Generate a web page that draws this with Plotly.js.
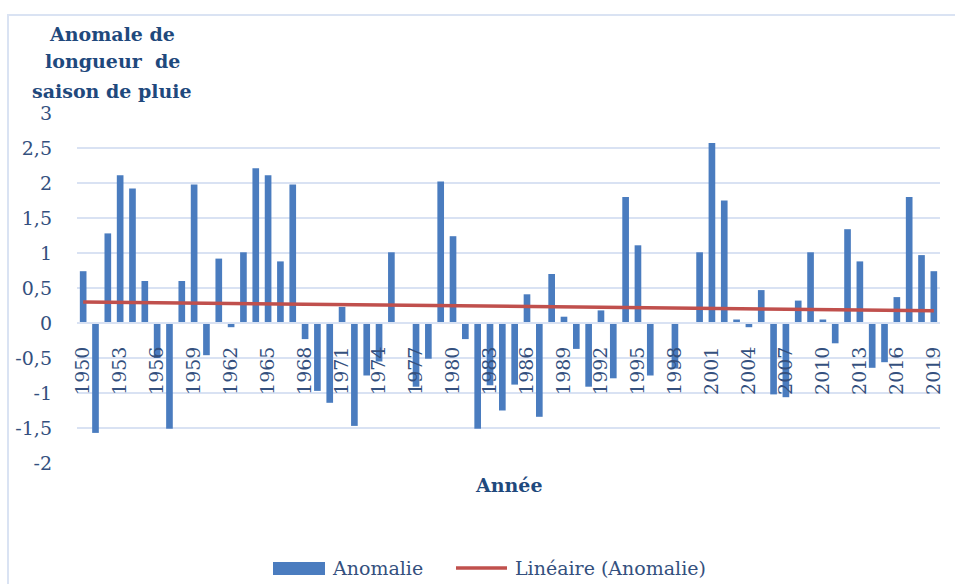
<!DOCTYPE html>
<html>
<head>
<meta charset="utf-8">
<script src="https://cdn.plot.ly/plotly-3.0.1.min.js"></script>
<style>
  html, body { margin: 0; padding: 0; background: #ffffff; }
  #wrap { position: relative; width: 955px; height: 584px; overflow: hidden; }
  #frame { position: absolute; left: 7px; top: 14px; width: 1000px; height: 600px;
           border-left: 2px solid #DAE3F3; border-top: 2px solid #DAE3F3; pointer-events: none; }
  #chart { position: absolute; left: 0; top: 0; width: 955px; height: 584px; }
</style>
</head>
<body>
<div id="wrap">
  <div id="chart"></div>
  <div id="frame"></div>
</div>
<script>
// ---- Data ----
const years = [
  1950,1951,1952,1953,1954,1955,1956,1957,1958,1959,
  1960,1961,1962,1963,1964,1965,1966,1967,1968,1969,
  1970,1971,1972,1973,1974,1975,1976,1977,1978,1979,
  1980,1981,1982,1983,1984,1985,1986,1987,1988,1989,
  1990,1991,1992,1993,1994,1995,1996,1997,1998,1999,
  2000,2001,2002,2003,2004,2005,2006,2007,2008,2009,
  2010,2011,2012,2013,2014,2015,2016,2017,2018,2019
];
const anomalie = [
  0.74,-1.57,1.28,2.11,1.92,0.60,-0.50,-1.51,0.60,1.98,
  -0.46,0.92,-0.06,1.01,2.21,2.11,0.88,1.98,-0.23,-0.97,
  -1.14,0.23,-1.47,-0.75,-0.55,1.01,0.01,-0.91,-0.51,2.02,
  1.24,-0.23,-1.51,-0.89,-1.25,-0.88,0.41,-1.34,0.70,0.09,
  -0.37,-0.91,0.18,-0.79,1.80,1.11,-0.75,0.01,-0.65,0.01,
  1.01,2.57,1.75,0.05,-0.06,0.47,-1.02,-1.06,0.32,1.01,
  0.05,-0.29,1.34,0.88,-0.64,-0.56,0.37,1.80,0.97,0.74
];
// Linear trend line (Linéaire (Anomalie)) end points
const trendYears = [1950, 2019];
const trendValues = [0.30, 0.176];

const xTickVals = [1950,1953,1956,1959,1962,1965,1968,1971,1974,1977,1980,1983,1986,1989,1992,1995,1998,2001,2004,2007,2010,2013,2016,2019];
const xTickText = ['1950','1953','1956','1959','1962','1965','1968','1971','1974','1977','1980','1983','1986','1989','1992','1995','1998','2001','2004','2007','2010','2013','2016','2019'];
const yTickVals = [-2,-1.5,-1,-0.5,0,0.5,1,1.5,2,2.5,3];
const yTickText = ['-2','-1,5','-1','-0,5','0','0,5','1','1,5','2','2,5','3'];

const seriesNames = ['Anomalie', 'Linéaire (Anomalie)'];
const titleLines = ['Anomale de', 'longueur  de', 'saison de pluie'];
const xTitleText = 'Année';

// ---- Styles ----
const gridColor = '#D9E2F3';
const tickColor = '#34507E';
const titleColor = '#1F497D';
const barColor = '#4A7CBF';
const trendColor = '#C0504D';
const serif = '"DejaVu Serif", "Liberation Serif", serif';

const yMin = -2, yMax = 3;
// plot area in pixels
const L = 77, R = 940, T = 113, B = 463;
const W = R - L, H = B - T;
const px = (x) => (x - L) / W;
const py = (y) => (B - y) / H;

const traces = [
  {
    type: 'bar',
    x: years,
    y: anomalie,
    name: seriesNames[0],
    marker: { color: barColor, line: { width: 0 } },
    showlegend: false,
    hoverinfo: 'skip'
  },
  {
    type: 'scatter',
    mode: 'lines',
    x: trendYears,
    y: trendValues,
    name: seriesNames[1],
    line: { color: trendColor, width: 3.5 },
    showlegend: false,
    hoverinfo: 'skip'
  }
];

const titleY = [33.5, 61.5, 90.5];
const titleAnnotations = titleLines.map((t, i) => ({
  text: t,
  xref: 'paper', yref: 'paper',
  x: px(112), y: py(titleY[i]),
  xanchor: 'center', yanchor: 'middle', align: 'center',
  showarrow: false,
  font: { family: serif, size: 19, color: titleColor, weight: 'bold' }
}));

const layout = {
  width: 955,
  height: 584,
  margin: { l: L, r: 955 - R, t: T, b: 584 - B, autoexpand: false },
  paper_bgcolor: 'rgba(0,0,0,0)',
  plot_bgcolor: 'rgba(0,0,0,0)',
  font: { family: serif, size: 19, color: tickColor },
  bargap: 0.46,
  showlegend: false,
  xaxis: {
    type: 'linear',
    range: [1949.5, 2019.5],
    anchor: 'free',
    position: (0 - yMin) / (yMax - yMin),
    tickmode: 'array',
    tickvals: xTickVals,
    ticktext: xTickText,
    tickangle: -90,
    ticks: '',
    ticklabelstandoff: 15,
    showgrid: false,
    zeroline: false,
    showline: true,
    linecolor: gridColor,
    linewidth: 2,
    automargin: false,
    tickfont: { family: serif, size: 19, color: tickColor },
    fixedrange: true
  },
  yaxis: {
    range: [yMin, yMax],
    tickmode: 'array',
    tickvals: yTickVals,
    ticktext: yTickText,
    ticks: '',
    ticklabelstandoff: 24,
    showgrid: true,
    gridcolor: gridColor,
    gridwidth: 2,
    zeroline: true,
    zerolinecolor: gridColor,
    zerolinewidth: 2,
    showline: false,
    automargin: false,
    tickfont: { family: serif, size: 19, color: tickColor },
    fixedrange: true
  },
  shapes: [
    // legend symbols
    { type: 'rect', xref: 'paper', yref: 'paper',
      x0: px(273), x1: px(325), y0: py(575), y1: py(562),
      fillcolor: barColor, line: { width: 0 } },
    { type: 'line', xref: 'paper', yref: 'paper',
      x0: px(456), x1: px(507), y0: py(568), y1: py(568),
      line: { color: trendColor, width: 3.5 } }
  ],
  annotations: titleAnnotations.concat([
    {
      text: xTitleText,
      xref: 'paper', yref: 'paper',
      x: 0.5, y: py(485),
      xanchor: 'center', yanchor: 'middle',
      showarrow: false,
      font: { family: serif, size: 19, color: titleColor, weight: 'bold' }
    },
    {
      text: seriesNames[0],
      xref: 'paper', yref: 'paper',
      x: px(330), y: py(568),
      xanchor: 'left', yanchor: 'middle',
      showarrow: false,
      font: { family: serif, size: 19, color: tickColor }
    },
    {
      text: seriesNames[1],
      xref: 'paper', yref: 'paper',
      x: px(513), y: py(568),
      xanchor: 'left', yanchor: 'middle',
      showarrow: false,
      font: { family: serif, size: 19, color: tickColor }
    }
  ])
};

Plotly.newPlot('chart', traces, layout, { displayModeBar: false, staticPlot: true });
</script>
</body>
</html>
